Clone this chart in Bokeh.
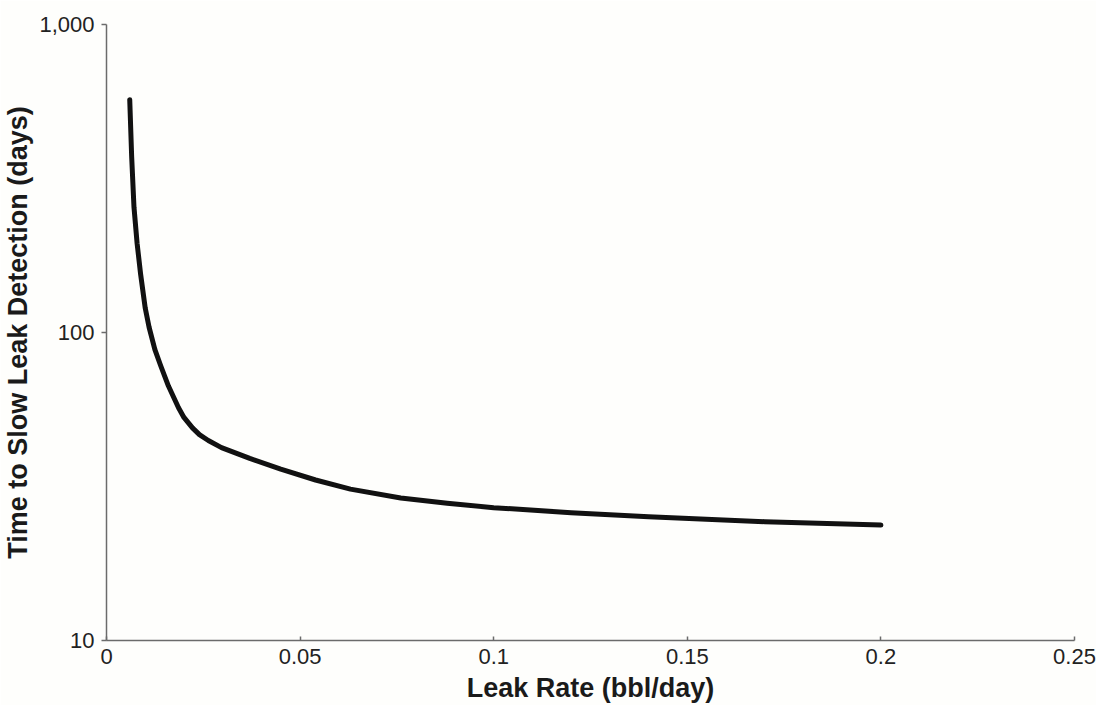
from bokeh.plotting import figure
from bokeh.models import FixedTicker, CustomJSTickFormatter, Range1d
from bokeh.embed import file_html
from bokeh.resources import INLINE

# Data
leak_rate = [0.006, 0.0065, 0.0071, 0.0079, 0.0088, 0.0100, 0.0110, 0.0125,
             0.0140, 0.0160, 0.0186, 0.0200, 0.0222, 0.0240, 0.0263, 0.0297,
             0.037, 0.045, 0.054, 0.063, 0.076, 0.088, 0.100, 0.120, 0.140,
             0.170, 0.200]
detect_days = [570, 372, 255, 195, 155, 120, 104, 88,
               78, 67, 57, 53, 49, 46.6, 44.6, 42.3,
               39.0, 36.0, 33.2, 31.0, 29.0, 27.9, 27.0, 26.0, 25.2,
               24.3, 23.7]

x_ticks = [0, 0.05, 0.1, 0.15, 0.2, 0.25]
y_ticks = [10, 100, 1000]

FONT = "Liberation Sans"

p = figure(width=1096, height=705, y_axis_type="log",
           x_range=Range1d(0, 0.25), y_range=Range1d(10, 1000),
           output_backend="svg", toolbar_location=None,
           background_fill_color="#fefefc", border_fill_color="#fefefc",
           min_border_left=90, min_border_right=22, min_border_top=24,
           min_border_bottom=50)

p.line(leak_rate, detect_days, line_color="#111111", line_width=5,
       line_cap="round", line_join="round")

p.grid.visible = False
p.outline_line_color = None

xa = p.xaxis[0]
xa.ticker = FixedTicker(ticks=x_ticks, minor_ticks=[])
xa.formatter = CustomJSTickFormatter(code="return String(Number(tick.toFixed(3)));")
xa.axis_label = "Leak Rate (bbl/day)"
xa.major_tick_in = 4
xa.major_tick_out = 0
xa.minor_tick_in = 0
xa.minor_tick_out = 0

ya = p.yaxis[0]
ya.ticker = FixedTicker(ticks=y_ticks, minor_ticks=[])
ya.formatter = CustomJSTickFormatter(code="return Math.round(tick).toLocaleString('en-US');")
ya.axis_label = "Time to Slow Leak Detection (days)"
ya.major_tick_in = 0
ya.major_tick_out = 5
ya.minor_tick_in = 0
ya.minor_tick_out = 0

for ax in (xa, ya):
    ax.axis_line_color = "#6b6b6b"
    ax.axis_line_width = 1.5
    ax.major_tick_line_color = "#6b6b6b"
    ax.major_tick_line_width = 1.5
    ax.major_label_text_font = FONT
    ax.major_label_text_font_size = "22px"
    ax.major_label_text_color = "#222222"
    ax.axis_label_text_font = FONT
    ax.axis_label_text_font_size = "27px"
    ax.axis_label_text_font_style = "bold"
    ax.axis_label_text_color = "#1a1a1a"

xa.major_label_standoff = 8
xa.axis_label_standoff = 6
ya.major_label_standoff = 7
ya.axis_label_standoff = 3

open("out.html", "w").write(file_html(p, INLINE))
